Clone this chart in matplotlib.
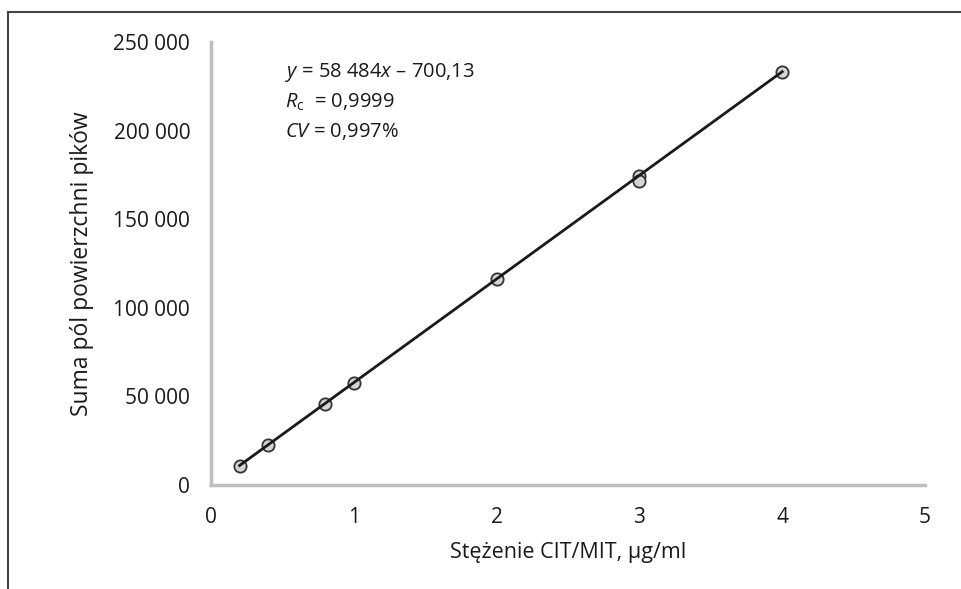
import matplotlib
matplotlib.use("Agg")
import matplotlib.pyplot as plt
from matplotlib.lines import Line2D
import numpy as np

conc = [0.2, 0.4, 0.8, 1.0, 2.0, 3.0, 3.0, 4.0]
area = [11000, 22700, 45600, 57500, 116000, 174500, 171500, 233300]
slope = 58484
intercept = -700.13
xticks = [0, 1, 2, 3, 4, 5]
yticks = [0, 50000, 100000, 150000, 200000, 250000]
ytick_labels = ["0", "50 000", "100 000", "150 000", "200 000", "250 000"]

plt.rcParams['font.family'] = ['Open Sans', 'DejaVu Sans']
plt.rcParams['mathtext.fontset'] = 'custom'
plt.rcParams['mathtext.rm'] = 'Open Sans'
plt.rcParams['mathtext.it'] = 'Open Sans:italic'

W, H = 961, 589
fig = plt.figure(figsize=(W/100, H/100), dpi=100)
ax = fig.add_axes([211/W, 1-485/H, (925-211)/W, (485-42)/H])

xl = np.array([min(conc), max(conc)])
ax.plot(xl, slope*xl + intercept, color='#1a1a1a', lw=2, zorder=3)
ax.scatter(conc, area, s=78, facecolor='#d4d4d4', edgecolor='#333333', linewidth=1.3, zorder=2)

ax.set_xlim(0, 5)
ax.set_ylim(0, 250000)
ax.set_xticks(xticks)
ax.set_xticklabels([str(t) for t in xticks])
ax.set_yticks(yticks)
ax.set_yticklabels(ytick_labels)
ax.tick_params(length=0, labelsize=15, colors='#1a1a1a')
ax.tick_params(axis='x', pad=16)
ax.tick_params(axis='y', pad=15)
for s in ['top', 'right']:
    ax.spines[s].set_visible(False)
for s in ['left', 'bottom']:
    ax.spines[s].set_color('#bfbfbf')
    ax.spines[s].set_linewidth(2.5)

ax.set_xlabel("Stężenie CIT/MIT, µg/ml", fontsize=15.5, color='#1a1a1a', labelpad=10)
ax.set_ylabel("Suma pól powierzchni pików", fontsize=16.5, color='#1a1a1a', labelpad=14)

tx = 285/W
fig.text(tx, 1-72/H, r"$\mathit{y}$ = 58 484$\mathit{x}$ – 700,13", fontsize=14.5, va='center', color='#1a1a1a')
fig.text(tx, 1-102/H, r"$\mathit{R}_{\mathrm{c}}$  = 0,9999", fontsize=14.5, va='center', color='#1a1a1a')
fig.text(tx, 1-131/H, r"$\mathit{CV}$ = 0,997%", fontsize=14.5, va='center', color='#1a1a1a')

fig.add_artist(Line2D([8/W, 8/W], [0, 1-12/H], transform=fig.transFigure, color='#444444', lw=1.5))
fig.add_artist(Line2D([8/W, 1], [1-12/H, 1-12/H], transform=fig.transFigure, color='#444444', lw=1.5))

fig.savefig("out.png", dpi=100)
